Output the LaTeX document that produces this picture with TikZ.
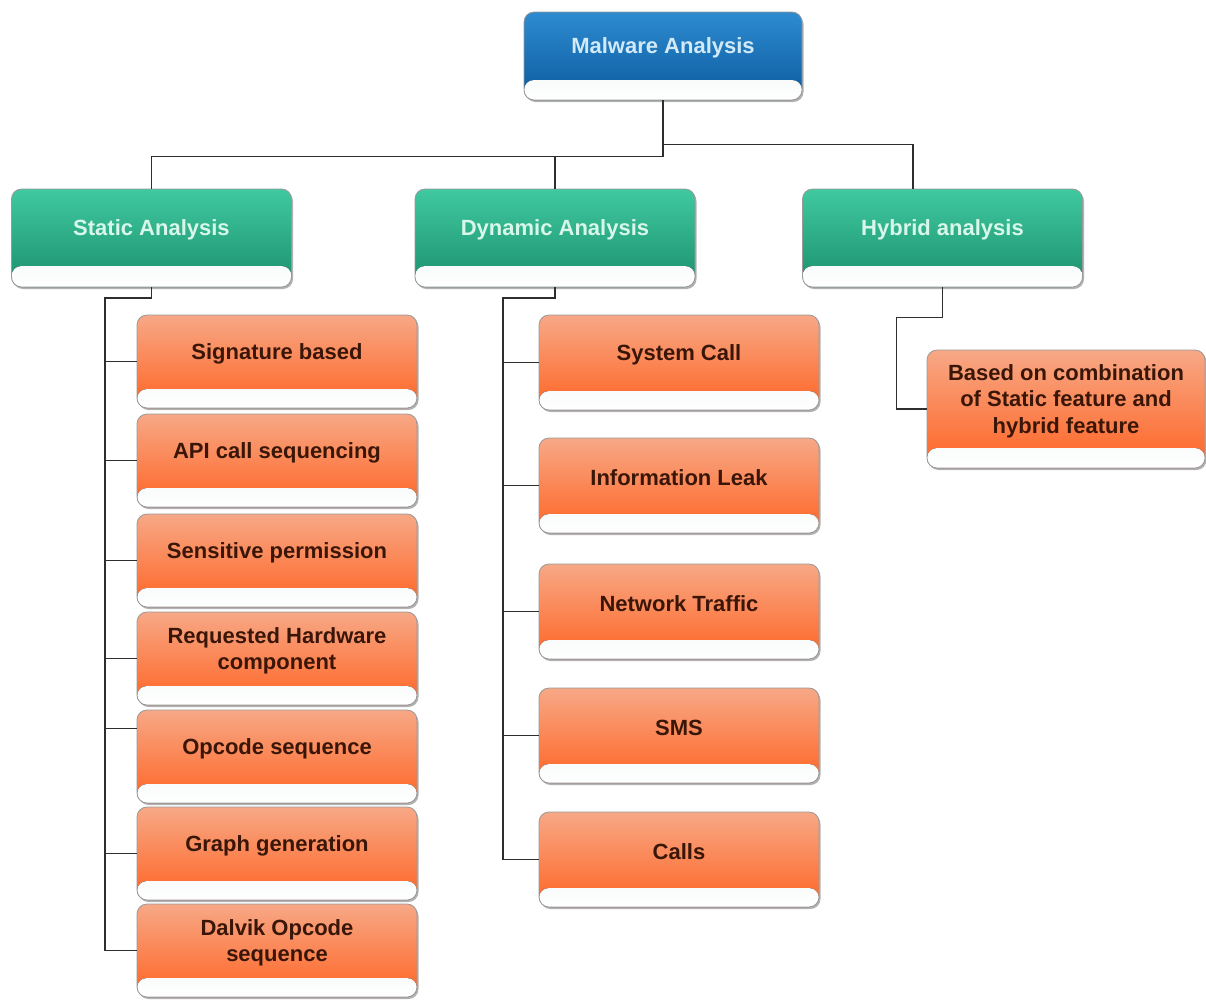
\documentclass[tikz,border=0pt]{standalone}
\usepackage{fontspec}
\setmainfont{Liberation Sans}
\usetikzlibrary{shadows}
\definecolor{blueT}{HTML}{2E8BD0}
\definecolor{blueB}{HTML}{0B5A9E}
\definecolor{blueTx}{HTML}{D2EAF8}
\definecolor{greenT}{HTML}{40C9A0}
\definecolor{greenB}{HTML}{1A8F6C}
\definecolor{greenTx}{HTML}{D8F7EA}
\definecolor{orangeT}{HTML}{F7A886}
\definecolor{orangeB}{HTML}{FF6424}
\definecolor{orangeTx}{HTML}{3A1608}
\definecolor{bandT}{HTML}{E4EAEB}
\definecolor{lineC}{HTML}{2E2E2E}
\tikzset{
  base/.style={draw=black!40, line width=0.8pt, rounded corners=10pt, inner sep=0pt,
    drop shadow={shadow xshift=1.5pt, shadow yshift=-2pt, opacity=0.3, fill=black}},
  band/.style={path picture={\fill[top color=bandT, bottom color=white]
      ([yshift=#1]path picture bounding box.south west) rectangle (path picture bounding box.south east);}},
  txt/.style={font=\bfseries\fontsize{22}{26.5}\selectfont, align=center, inner sep=0pt},
  topbox/.style={base, top color=blueT, bottom color=blueB, minimum width=278pt, minimum height=88pt, band=20pt},
  gbox/.style={base, top color=greenT, bottom color=greenB, minimum width=280pt, minimum height=98pt, band=21pt},
  obox/.style={base, top color=orangeT, bottom color=orangeB, minimum width=280pt, minimum height=#1, band=19pt},
  ttxt/.style={txt, text=blueTx, yshift=8.5pt},
  gtxt/.style={txt, text=greenTx, yshift=8pt},
  otxt/.style={txt, text=orangeTx, yshift=7.5pt},
  conn/.style={draw=lineC, line width=1.4pt},
}
\begin{document}
\begin{tikzpicture}[x=1pt,y=-1pt]
\useasboundingbox[fill=white] (0,0) rectangle (1206,999);
% root
\node[topbox, label={[ttxt]center:Malware Analysis}] (mal) at (663,56) {};
% level 1
\node[gbox, label={[gtxt]center:Static Analysis}] (st) at (151.5,238) {};
\node[gbox, label={[gtxt]center:Dynamic Analysis}] (dy) at (555,238) {};
\node[gbox, label={[gtxt]center:Hybrid analysis}] (hy) at (942.5,238) {};
% static children
\node[obox=93pt, label={[otxt]center:Signature based}] (s1) at (277,361.5) {};
\node[obox=93pt, label={[otxt]center:API call sequencing}] (s2) at (277,460.5) {};
\node[obox=93pt, label={[otxt]center:Sensitive permission}] (s3) at (277,560.5) {};
\node[obox=93pt, label={[otxt]center:{Requested Hardware\\component}}] (s4) at (277,658.5) {};
\node[obox=93pt, label={[otxt]center:Opcode sequence}] (s5) at (277,756.5) {};
\node[obox=93pt, label={[otxt]center:Graph generation}] (s6) at (277,853.5) {};
\node[obox=93pt, label={[otxt]center:{Dalvik Opcode\\sequence}}] (s7) at (277,950.5) {};
% dynamic children
\node[obox=95pt, label={[otxt]center:System Call}] (d1) at (679,362.5) {};
\node[obox=95pt, label={[otxt]center:Information Leak}] (d2) at (679,485.5) {};
\node[obox=95pt, label={[otxt]center:Network Traffic}] (d3) at (679,611.5) {};
\node[obox=95pt, label={[otxt]center:SMS}] (d4) at (679,735.5) {};
\node[obox=95pt, label={[otxt]center:Calls}] (d5) at (679,859.5) {};
% hybrid child
\node[base, top color=orangeT, bottom color=orangeB, minimum width=278pt, minimum height=118pt, band=20pt,
  label={[txt, text=orangeTx, yshift=8pt]center:{Based on combination\\of Static feature and\\hybrid feature}}] (h1) at (1066,409) {};
% connectors from root
\draw[conn] (mal.south) -- ++(0,56) -| (st.north);
\draw[conn] (mal.south) ++(0,56) -| (dy.north);
\draw[conn] (mal.south) -- ++(0,44) -| ([xshift=-29.5pt]hy.north);
% static trunk
\coordinate (sj) at (105,298);
\draw[conn] (st.south) |- (sj) -- (sj |- s7.west) -- (s7.west);
\foreach \n in {s1,s2,s3,s4,s6} \draw[conn] (sj |- \n.west) -- (\n.west);
\draw[conn] ([yshift=28pt]s5.west) -- ([yshift=28pt]s5.west -| sj);
% dynamic trunk
\coordinate (dj) at (503,298);
\draw[conn] (dy.south) |- (dj) -- (dj |- d5.west) -- (d5.west);
\foreach \n in {d1,d2,d3,d4} \draw[conn] (dj |- \n.west) -- (\n.west);
% hybrid
\draw[conn] (hy.south) -- ++(0,30) -| ([xshift=-30pt]h1.west) -- (h1.west);
\end{tikzpicture}
\end{document}
